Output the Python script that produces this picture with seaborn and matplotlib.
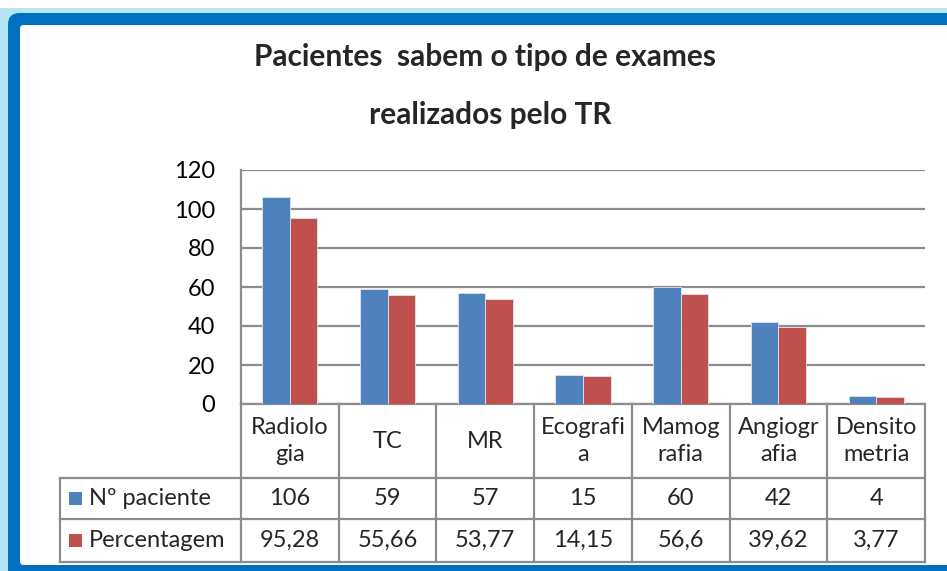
import matplotlib
matplotlib.use("Agg")
import matplotlib.pyplot as plt
import matplotlib.transforms as mtransforms
from matplotlib.patches import FancyBboxPatch, Rectangle
import seaborn as sns
import pandas as pd

categories = ["Radiologia", "TC", "MR", "Ecografia", "Mamografia", "Angiografia", "Densitometria"]
header_labels = ["Radiolo\ngia", "TC", "MR", "Ecografi\na", "Mamog\nrafia", "Angiogr\nafia", "Densito\nmetria"]
series_names = ["Nº paciente", "Percentagem"]
n_paciente = [106, 59, 57, 15, 60, 42, 4]
percentagem = [95.28, 55.66, 53.77, 14.15, 56.6, 39.62, 3.77]
y_ticks = [0, 20, 40, 60, 80, 100, 120]
title_lines = ["Pacientes  sabem o tipo de exames", "realizados pelo TR"]
colors = ["#4F81BD", "#C0504D"]

sns.set_theme(style="white")
plt.rcParams["font.family"] = ["Lato", "DejaVu Sans"]

W, H = 947, 571
fig = plt.figure(figsize=(W / 100, H / 100), dpi=100)
fig.patch.set_facecolor("white")

def fx(px):
    return px / W

def fy(py):
    return 1 - py / H

# frame
fig.patches.append(Rectangle((0, 0), 1, fy(8), transform=fig.transFigure,
                             facecolor="#B4E6F5", edgecolor="none", zorder=-3))
fig.patches.append(FancyBboxPatch((fx(8), fy(590)), fx(1000), fy(13) - fy(590),
                                  boxstyle="round,pad=0,rounding_size=0.012",
                                  transform=fig.transFigure, mutation_aspect=W / H,
                                  facecolor="#0070C0", edgecolor="none", zorder=-2))
fig.patches.append(FancyBboxPatch((fx(20), fy(565)), fx(1000), fy(25) - fy(565),
                                  boxstyle="round,pad=0,rounding_size=0.004",
                                  transform=fig.transFigure, mutation_aspect=W / H,
                                  facecolor="white", edgecolor="none", zorder=-1))

# axes
x0, x1, ytop, ybot = 241, 925, 170, 404
ax = fig.add_axes([fx(x0), fy(ybot), fx(x1 - x0), fy(ytop) - fy(ybot)])
ax.set_facecolor("none")

df = pd.DataFrame({
    "categoria": categories * 2,
    "serie": [series_names[0]] * len(categories) + [series_names[1]] * len(categories),
    "valor": n_paciente + percentagem,
})
sns.barplot(data=df, x="categoria", y="valor", hue="serie", order=categories,
            hue_order=series_names, palette=colors, saturation=1, width=0.565,
            ax=ax, legend=False, zorder=3, edgecolor="#DCE6F0", linewidth=0.6)

ax.set_xlim(-0.5, len(categories) - 0.5)
ax.set_ylim(0, 120)
ax.set_yticks(y_ticks)
ax.set_yticklabels([str(t) for t in y_ticks])
ax.set_xticks([])
ax.set_xlabel("")
ax.set_ylabel("")
ax.tick_params(axis="y", length=0, pad=18.5, labelsize=17, labelcolor="black")
ax.yaxis.grid(True, color="#8C8C8C", linewidth=1.6)
ax.set_axisbelow(True)
for s in ["top", "right"]:
    ax.spines[s].set_visible(False)
ax.spines["left"].set_color("#8C8C8C")
ax.spines["left"].set_linewidth(1.6)
ax.spines["bottom"].set_color("#8C8C8C")
ax.spines["bottom"].set_linewidth(1.6)

# data table
tr = mtransforms.blended_transform_factory(ax.transData, ax.transAxes)
axh = ybot - ytop
def ay(py):
    return (ybot - py) / axh

n = len(categories)
col_w = (x1 - x0) / n
x_left = -0.5 + (60 - x0) / col_w
r1, r2, r3 = 478, 519, 562
lc = "#8C8C8C"
lw = 1.6
kw = dict(transform=tr, color=lc, linewidth=lw, clip_on=False, solid_capstyle="projecting")
for yy in [r1, r2, r3]:
    ax.plot([x_left, n - 0.5], [ay(yy), ay(yy)], **kw)
for i in range(n + 1):
    ax.plot([i - 0.5, i - 0.5], [0, ay(r3)], **kw)
ax.plot([x_left, x_left], [ay(r1), ay(r3)], **kw)

def fmt(v):
    return f"{v:g}".replace(".", ",")

for i in range(n):
    ax.text(i, ay((ybot + r1) / 2), header_labels[i], transform=tr, ha="center",
            va="center", fontsize=17, linespacing=1.35, clip_on=False)
    ax.text(i, ay((r1 + r2) / 2), fmt(n_paciente[i]), transform=tr, ha="center",
            va="center", fontsize=17, clip_on=False)
    ax.text(i, ay((r2 + r3) / 2), fmt(percentagem[i]), transform=tr, ha="center",
            va="center", fontsize=17, clip_on=False)

# legend keys inside the table
for name, c, (ra, rb) in zip(series_names, colors, [(r1, r2), (r2, r3)]):
    yc = (ra + rb) / 2
    fig.patches.append(Rectangle((fx(69), fy(yc + 6.5)), fx(13), fy(yc - 6.5) - fy(yc + 6.5),
                                 transform=fig.transFigure, facecolor=c, edgecolor="none"))
    fig.text(fx(89), fy(yc), name, ha="left", va="center", fontsize=17)

# title
fig.text(fx(485), fy(57), title_lines[0], ha="center", va="center",
         fontsize=21.5, fontweight="bold")
fig.text(fx(490), fy(115), title_lines[1], ha="center", va="center",
         fontsize=21.5, fontweight="bold")

fig.savefig("out.png", dpi=100)
